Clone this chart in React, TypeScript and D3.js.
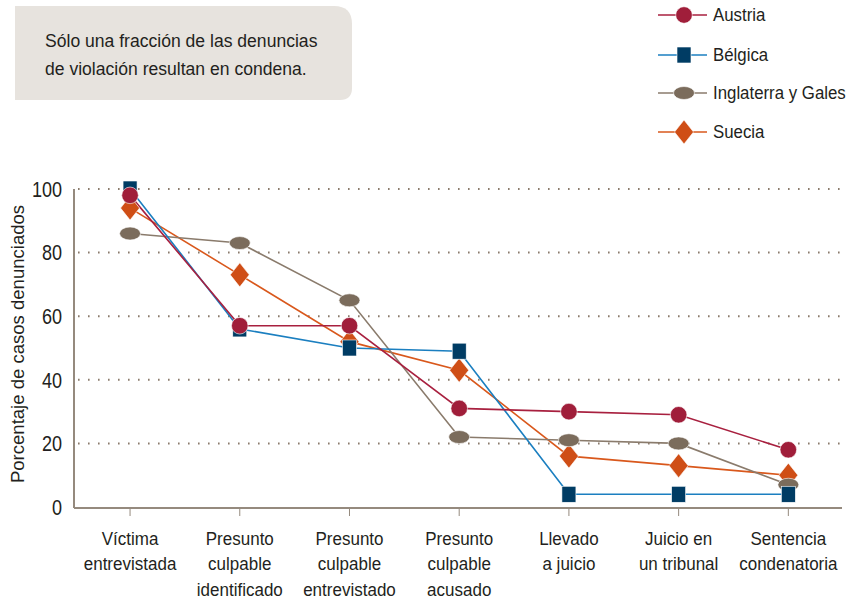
import React from "react";
import * as d3 from "d3";

const categories = [
  ["Víctima", "entrevistada"],
  ["Presunto", "culpable", "identificado"],
  ["Presunto", "culpable", "entrevistado"],
  ["Presunto", "culpable", "acusado"],
  ["Llevado", "a juicio"],
  ["Juicio en", "un tribunal"],
  ["Sentencia", "condenatoria"],
];

const austria = [98, 57, 57, 31, 30, 29, 18];
const belgica = [100, 56, 50, 49, 4, 4, 4];
const inglaterra = [86, 83, 65, 22, 21, 20, 7];
const suecia = [94, 73, 52, 43, 16, 13, 10];

const yTicks = [0, 20, 40, 60, 80, 100];
const seriesNames = ["Austria", "Bélgica", "Inglaterra y Gales", "Suecia"];
const annotation = ["Sólo una fracción de las denuncias", "de violación resultan en condena."];
const yTitle = "Porcentaje de casos denunciados";

const FONT = "'Liberation Sans', Arial, sans-serif";
const TEXT = "#231f20";

type Kind = "circle" | "square" | "ellipse" | "diamond";
const styles: { name: string; values: number[]; line: string; fill: string; kind: Kind }[] = [
  { name: seriesNames[0], values: austria, line: "#a8203f", fill: "#a01e3a", kind: "circle" },
  { name: seriesNames[1], values: belgica, line: "#1b7fc0", fill: "#003c64", kind: "square" },
  { name: seriesNames[2], values: inglaterra, line: "#8a7b6c", fill: "#7b6c5c", kind: "ellipse" },
  { name: seriesNames[3], values: suecia, line: "#d9581c", fill: "#cf4e16", kind: "diamond" },
];

function Marker({ kind, x, y, fill }: { kind: Kind; x: number; y: number; fill: string }) {
  const st = { fill, stroke: "#ffffff", strokeWidth: 0.6 } as any;
  if (kind === "circle") return <circle cx={x} cy={y} r={8.3} {...st} />;
  if (kind === "square") return <rect x={x - 7} y={y - 8} width={14} height={16} {...st} />;
  if (kind === "ellipse") return <ellipse cx={x} cy={y} rx={10.5} ry={6.5} {...st} />;
  return <path d={`M${x},${y - 12}L${x + 9.5},${y}L${x},${y + 12}L${x - 9.5},${y}Z`} {...st} />;
}

function T({ x, y, children, size = 18, anchor = "start", dy, rotate = 0, sx = 0.86 }: any) {
  return (
    <text
      transform={`translate(${x},${y}) rotate(${rotate}) scale(${sx},1)`}
      fontSize={size}
      textAnchor={anchor}
      dy={dy}
      fill={TEXT}
    >
      {children}
    </text>
  );
}

export default function App() {
  const W = 862, H = 602;
  const x0 = 74, x1 = 842, yTop = 189, yBot = 507;
  const x = d3.scaleBand<number>().domain(d3.range(categories.length)).range([x0 + 1.2, x1 + 1.2]).padding(0);
  const cx = (i: number) => (x(i) as number) + x.bandwidth() / 2;
  const y = d3.scaleLinear().domain([0, 100]).range([yBot, yTop]);
  const line = d3.line<number>().x((_, i) => cx(i)).y((d) => y(d));

  const drawOrder = [3, 2, 1, 0];
  const legendY = [15, 55, 93, 132];

  return (
    <svg width={W} height={H} style={{ position: "absolute", left: 0, top: 0, background: "#fff" }} fontFamily={FONT}>
      {/* annotation box */}
      <path d="M15,6 H334 Q352,6 352,24 V88 Q352,100 340,100 H15 Z" fill="#e7e3de" />
      {annotation.map((t, i) => (
        <T key={i} x={45} y={47 + i * 28} size={18.5} sx={0.95}>{t}</T>
      ))}

      {/* legend */}
      {styles.map((s, i) => (
        <g key={s.name}>
          <line x1={658} x2={707} y1={legendY[i]} y2={legendY[i]} stroke={s.line} strokeWidth={1.6} />
          <Marker kind={s.kind} x={684} y={legendY[i]} fill={s.fill} />
          <T x={713} y={legendY[i]} dy="0.35em" size={18.5} sx={0.91}>{s.name}</T>
        </g>
      ))}

      {/* gridlines */}
      {yTicks.filter((t) => t > 0).map((t) => (
        <line key={t} x1={x0 + 4} x2={x1} y1={y(t)} y2={y(t)} stroke="#8a7b6c" strokeWidth={2} strokeDasharray="1.6 8.4" />
      ))}

      {/* y tick labels */}
      {yTicks.map((t) => (
        <T key={t} x={62} y={y(t)} dy="0.36em" anchor="end" size={21.5} sx={0.84}>{t}</T>
      ))}
      <T x={24} y={344} rotate={-90} anchor="middle" size={17.5} sx={1.06}>{yTitle}</T>

      {/* axes */}
      <line x1={x0} x2={x0} y1={yTop} y2={yBot + 1} stroke="#958a7e" strokeWidth={2} />
      <line x1={x0} x2={x1} y1={yBot + 1} y2={yBot + 1} stroke="#958a7e" strokeWidth={2} />
      {categories.map((c, i) => (
        <line key={i} x1={cx(i)} x2={cx(i)} y1={yBot + 1} y2={yBot + 9} stroke="#958a7e" strokeWidth={1} />
      ))}
      {categories.map((c, i) => (
        <T key={i} x={cx(i)} y={545} anchor="middle" size={18.5} sx={0.92}>
          {c.map((l, j) => (
            <tspan key={j} x={0} dy={j === 0 ? 0 : 25.5}>{l}</tspan>
          ))}
        </T>
      ))}

      {/* lines */}
      {drawOrder.map((k) => {
        const s = styles[k];
        return <path key={s.name} d={line(s.values) as string} fill="none" stroke={s.line} strokeWidth={1.6} />;
      })}
      {/* markers */}
      {drawOrder.map((k) => {
        const s = styles[k];
        return (
          <g key={s.name}>
            {s.values.map((v, i) => (
              <Marker key={i} kind={s.kind} x={cx(i)} y={y(v)} fill={s.fill} />
            ))}
          </g>
        );
      })}
    </svg>
  );
}
